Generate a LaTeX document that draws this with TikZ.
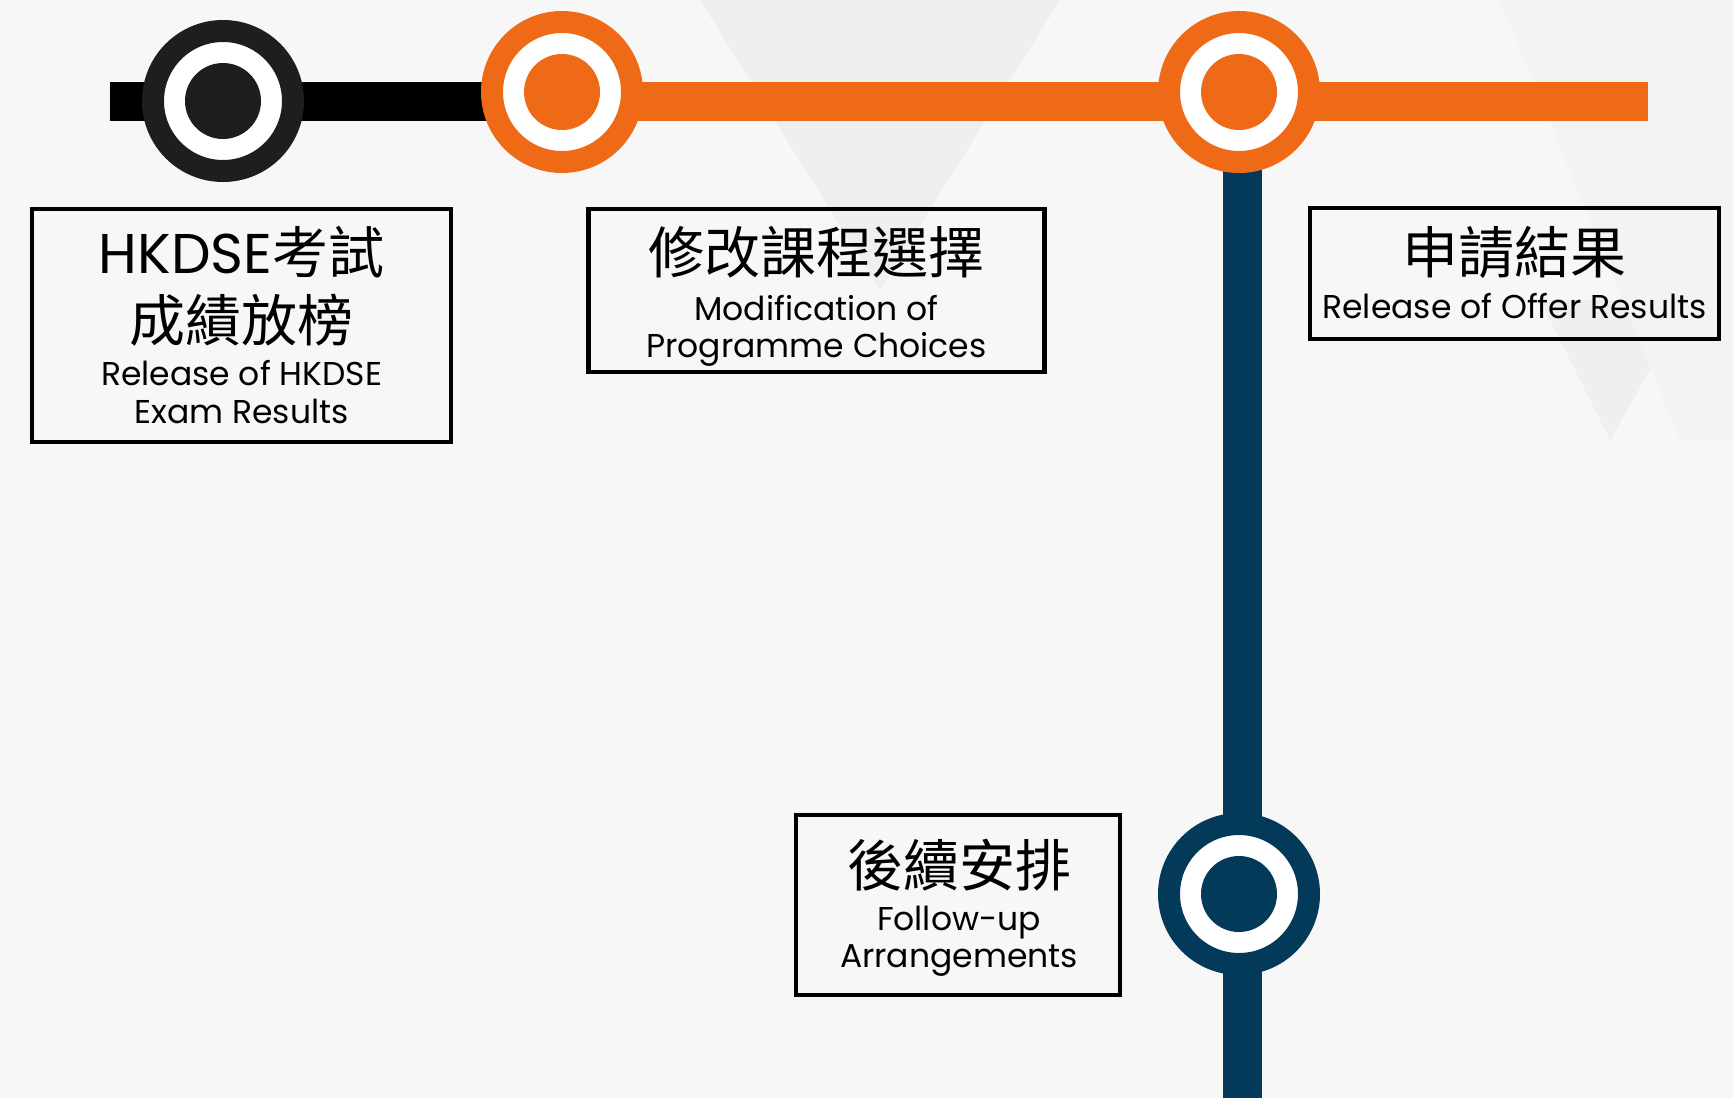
\documentclass[tikz,border=0pt]{standalone}
\usepackage{fontspec}
\setmainfont{Poppins}
\newfontfamily\cjk{Noto Sans CJK TC}
\definecolor{line_orange}{RGB}{239,106,23}
\definecolor{line_navy}{RGB}{3,58,90}
\definecolor{line_black}{RGB}{30,30,30}
\definecolor{bg_grey}{RGB}{247,247,247}
\definecolor{tri_grey}{RGB}{239,239,239}
\tikzset{
  track/.style={draw=#1,line width=39pt},
  station/.style={circle,draw=#1,fill=white,line width=22pt,minimum size=140pt,
    inner sep=0pt,path picture={\fill[#1] (path picture bounding box.center) circle (38pt);}},
  infobox/.style={draw=black,line width=4.5pt,inner sep=0pt},
  zh/.style={anchor=base,inner sep=0pt,font=\fontsize{56}{60}\selectfont\cjk},
  en/.style={anchor=base,inner sep=0pt,font=\fontsize{33}{38}\selectfont},
  none/.style={}
}

\begin{document}
\begin{tikzpicture}[x=1pt,y=-1pt]
            \useasboundingbox (0,0) rectangle (1733,1098);
            % background
            \fill[bg_grey] (0,0) rectangle (1733,1098);
            \fill[tri_grey] (700,0) -- (1060,0) -- (880,290) -- cycle;
            \fill[tri_grey] (1540,300) -- (1690,300) -- (1610,440) -- cycle;
            \fill[tri_grey!50!bg_grey] (1500,0) -- (1733,0) -- (1733,440) -- (1680,440) -- cycle;
            % stations and tracks
            \coordinate (s1) at (223,101);
            \coordinate (s2) at (562,92);
            \coordinate (s3) at (1239,92);
            \coordinate (s4) at (1239,894);
            \coordinate (barL) at (110,101.5);
            \coordinate (barR) at (1648,101.5);
            \coordinate (vTop) at (1242,150);
            \coordinate (vBot) at (1242,1098);
            \draw [track=line_navy] (vTop) to (vBot);
            \draw [track=black] (barL) to (barL -| s2);
            \draw [track=line_orange] (barL -| s2) to (barR);
            \node [station=line_black] (c1) at (s1) {};
            \node [station=line_orange] (c2) at (s2) {};
            \node [station=line_orange] (c3) at (s3) {};
            \node [station=line_navy] (c4) at (s4) {};
            % boxes
            \node [infobox,minimum width=419,minimum height=233] (b1) at (241.5,325.5) {};
            \node [infobox,minimum width=456,minimum height=163] (b2) at (816.5,290.5) {};
            \node [infobox,minimum width=409,minimum height=131] (b3) at (1514.5,273.5) {};
            \node [infobox,minimum width=324,minimum height=180] (b4) at (958,905) {};
            % labels
            \node [zh] (t1a) at (241.5,273) {{\rmfamily HKDSE}考試};
            \node [zh] (t1b) at (241.5,341) {成績放榜};
            \node [en] (t1c) at (241.5,385) {Release of HKDSE};
            \node [en] (t1d) at (241.5,423) {Exam Results};
            \node [zh] (t2a) at (816.5,273) {修改課程選擇};
            \node [en] (t2b) at (816.5,320) {Modification of};
            \node [en] (t2c) at (816.5,357) {Programme Choices};
            \node [zh] (t3a) at (1514.5,273) {申請結果};
            \node [en] (t3b) at (1514.5,318) {Release of Offer Results};
            \node [zh] (t4a) at (959,886) {後續安排};
            \node [en] (t4b) at (959,930) {Follow-up};
            \node [en] (t4c) at (959,967) {Arrangements};
    \end{tikzpicture}
\end{document}
